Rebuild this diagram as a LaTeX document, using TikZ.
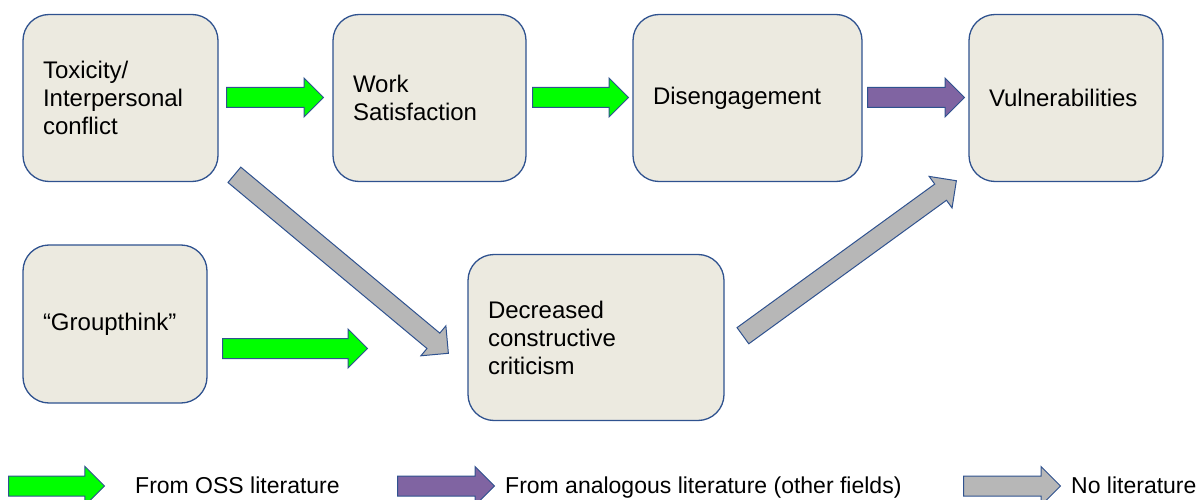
\documentclass[tikz,border=0pt]{standalone}
\usepackage{fontspec}
\setmainfont{Liberation Sans}
\usetikzlibrary{shapes.arrows,calc}

\definecolor{boxfill}{RGB}{236,234,224}
\definecolor{boxline}{RGB}{47,82,143}
\definecolor{litgreen}{RGB}{0,255,0}
\definecolor{litpurple}{RGB}{128,100,162}
\definecolor{litgray}{RGB}{183,183,183}

\tikzset{
  box/.style={rectangle, rounded corners=26pt, draw=boxline, line width=1.3pt, fill=boxfill,
    align=left, inner xsep=20pt, inner ysep=0pt, font=\fontsize{24}{28}\selectfont},
  blockarr/.style={single arrow, draw=boxline, line width=1pt, minimum width=38pt,
    single arrow head extend=9.5pt, single arrow tip angle=90, inner xsep=0pt, inner ysep=9.5pt},
  oss/.style={blockarr, fill=litgreen},
  analog/.style={blockarr, fill=litpurple},
  nolit/.style={blockarr, fill=litgray},
  legendtext/.style={anchor=base west, inner sep=0pt, font=\fontsize{23}{28}\selectfont}
}

% #1 name, #2 style, #3 tail, #4 tip
\newcommand{\blockarrow}[4]{%
  \path let \p1=(#3), \p2=(#4), \n1={atan2(\y2-\y1,\x2-\x1)}, \n2={veclen(\x2-\x1,\y2-\y1)} in
    node[#2, minimum height=\n2, rotate=\n1, anchor=tail] (#1) at (\p1) {};
}

\begin{document}
\begin{tikzpicture}[x=1pt,y=-1pt]

\useasboundingbox (0,0) rectangle (1203,500);

\node [box, text width=155pt, minimum height=167pt] (tox) at (120.5,98) {Toxicity/\\Interpersonal\\conflict};
\node [box, text width=153pt, minimum height=167pt] (work) at (429.5,98) {Work\\Satisfaction};
\node [box, text width=189pt, minimum height=167pt] (dis) at (747.5,98) {Disengagement};
\node [box, text width=154pt, minimum height=167pt] (vul) at (1066,98) {Vulnerabilities};
\node [box, text width=144pt, minimum height=158pt] (group) at (115,324) {``Groupthink''};
\node [box, text width=216pt, minimum height=166pt] (dec) at (596,337.5) {Decreased\\constructive\\criticism};

\coordinate (a1s) at (226,97.5);
\coordinate (a1e) at (323,97.5);
\coordinate (a2s) at (532,97.5);
\coordinate (a2e) at (628,97.5);
\coordinate (a3s) at (867,97.5);
\coordinate (a3e) at (964,97.5);
\coordinate (g1s) at (234,174.5);
\coordinate (g1e) at (448,353);
\coordinate (a4s) at (222,348.5);
\coordinate (a4e) at (367,348.5);
\coordinate (g2s) at (742.5,336);
\coordinate (g2e) at (956,181);

\blockarrow{toxwork}{oss}{a1s}{a1e}
\blockarrow{workdis}{oss}{a2s}{a2e}
\blockarrow{disvul}{analog}{a3s}{a3e}
\blockarrow{toxdec}{nolit}{g1s}{g1e}
\blockarrow{groupdec}{oss}{a4s}{a4e}
\blockarrow{decvul}{nolit}{g2s}{g2e}

% legend
\coordinate (l1s) at (8,486);
\coordinate (l1e) at (104,486);
\coordinate (l2s) at (397,486);
\coordinate (l2e) at (494,486);
\coordinate (l3s) at (963,486);
\coordinate (l3e) at (1060,486);

\blockarrow{keyoss}{oss}{l1s}{l1e}
\blockarrow{keyanalog}{analog}{l2s}{l2e}
\blockarrow{keynolit}{nolit}{l3s}{l3e}

\node [legendtext] (txtoss) at (135,493.5) {From OSS literature};
\node [legendtext] (txtanalog) at (505,493.5) {From analogous literature (other fields)};
\node [legendtext] (txtnolit) at (1071,493.5) {No literature};

\end{tikzpicture}
\end{document}
